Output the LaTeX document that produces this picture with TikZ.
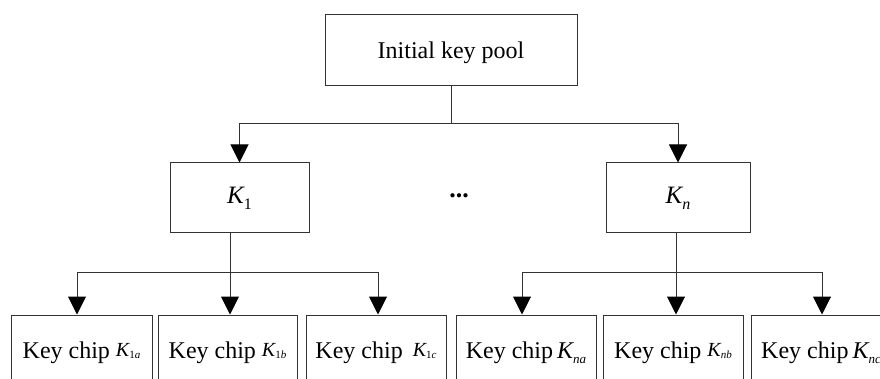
\documentclass[tikz,border=0pt]{standalone}
\usepackage{fontspec}
\setmainfont{Liberation Serif}
\usetikzlibrary{arrows.meta}
% small raised K with a tiny subscript, and a full-size K with a lowered subscript
\newcommand\subK[1]{\raisebox{2pt}{\fontsize{20}{20}\selectfont\itshape K}{\fontsize{11}{11}\selectfont #1}}
\newcommand\fullK[1]{{\itshape K}\raisebox{-5pt}{\fontsize{13}{13}\selectfont\itshape #1}}
\newcommand\levK[1]{{\itshape K}\raisebox{-6pt}{\fontsize{16}{16}\selectfont #1}}

\begin{document}
\begin{tikzpicture}[x=1pt,y=-1pt,
  box/.style={draw=black!80, line width=1pt, rectangle, inner sep=0pt,
              font=\fontsize{24}{28}\selectfont},
  chip/.style={box, minimum width=140pt, minimum height=75pt,
               text height=16pt, text depth=5pt},
  link/.style={draw=black!80, line width=1pt},
  arr/.style={link, -{Triangle[width=18pt,length=18pt,color=black]}}]
\useasboundingbox (0,0) rectangle (880,379);
\clip (0,0) rectangle (880,379);

% root
\node[box, minimum width=252pt, minimum height=71pt, text height=16pt, text depth=0pt]
  (pool) at (451,50.5) {Initial key pool};

% second level
\node[box, minimum width=139pt, minimum height=70pt, font=\fontsize{25}{28}\selectfont]
  (k1) at (239.5,198) {\levK{1}};
\node[box, minimum width=144pt, minimum height=70pt, font=\fontsize{25}{28}\selectfont]
  (kn) at (678,198) {\levK{\itshape n}};
\node[font=\fontsize{26}{26}\selectfont\bfseries] (dots) at (459,196) {...};

% key chips
\node[chip, minimum width=141pt] (c1a) at (81.5,352.5) {Key chip \subK{1\textit{a}}};
\node[chip, minimum width=139pt] (c1b) at (227.5,352.5) {Key chip \subK{1\textit{b}}};
\node[chip] (c1c) at (376,352.5) {Key chip \,\subK{1\textit{c}}};
\node[chip] (cna) at (526,352.5) {Key chip\,\fullK{na}};
\node[chip] (cnb) at (673,352.5) {Key chip \subK{\textit{nb}}};
\node[chip] (cnc) at (821,352.5) {Key chip\,\fullK{nc}};

% root to second level
\coordinate (s0) at (451,124);
\draw[link] (pool.south) -- (s0);
\draw[arr] (s0) -| (k1.north);
\draw[arr] (s0) -| (kn.north);

% K1 to its chips
\coordinate (s1) at (230,272);
\draw[link] (k1.south -| s1) -- (s1);
\draw[arr] (s1) -| ([xshift=-4.5pt]c1a.north);
\draw[arr] (s1) -- (c1b.north -| s1);
\draw[arr] (s1) -| ([xshift=2pt]c1c.north);

% Kn to its chips
\coordinate (s2) at (676,272);
\draw[link] (kn.south -| s2) -- (s2);
\draw[arr] (s2) -| ([xshift=-4pt]cna.north);
\draw[arr] (s2) -- (cnb.north -| s2);
\draw[arr] (s2) -| ([xshift=1pt]cnc.north);
\end{tikzpicture}
\end{document}
